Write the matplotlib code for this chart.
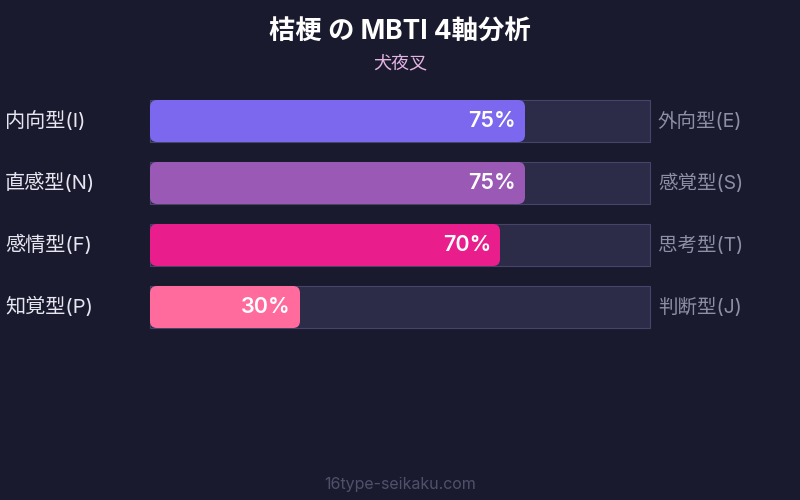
import matplotlib
matplotlib.use("Agg")
import matplotlib.pyplot as plt
import matplotlib.patches as mpatches

plt.rcParams['font.family'] = ['Inter', 'Noto Sans CJK JP', 'DejaVu Sans']

# data
title = "桔梗 の MBTI 4軸分析"
subtitle = "犬夜叉"
left_labels = ["内向型(I)", "直感型(N)", "感情型(F)", "知覚型(P)"]
right_labels = ["外向型(E)", "感覚型(S)", "思考型(T)", "判断型(J)"]
values = [75, 75, 70, 30]
bar_colors = ["#7b68ee", "#9b59b6", "#e91e8c", "#ff6b9d"]
footer = "16type-seikaku.com"

bg = "#1a1a2e"
fig = plt.figure(figsize=(8, 5), dpi=100, facecolor=bg)
ax = fig.add_axes([0, 0, 1, 1])
ax.set_facecolor(bg)
ax.set_xlim(0, 800)
ax.set_ylim(500, 0)
ax.axis('off')

x0, track_w = 150, 500
y_first, step, bar_h = 100, 62, 42

for i, (v, lab_l, lab_r, c) in enumerate(zip(values, left_labels, right_labels, bar_colors)):
    y = y_first + i * step
    # background track
    ax.add_patch(mpatches.Rectangle((x0, y), track_w, bar_h, facecolor="#2c2b48",
                                    edgecolor="#45446a", linewidth=0.8))
    # filled part
    w = track_w * v / 100
    ax.add_patch(mpatches.FancyBboxPatch((x0, y), w, bar_h,
                                         boxstyle="round,pad=0,rounding_size=7",
                                         facecolor=c, edgecolor="none"))
    ax.text(x0 + w - 9, y + bar_h / 2, f"{v}%", ha="right", va="center",
            fontsize=15.5, fontweight="semibold", color="white")
    ax.text(5, y + bar_h / 2, lab_l, ha="left", va="center", fontsize=14.5, color="#e6e6f0")
    ax.text(658, y + bar_h / 2, lab_r, ha="left", va="center", fontsize=14, color="#8e8ea6")

ax.text(400, 33, title, ha="center", va="center", fontsize=19, fontweight="bold", color="white")
ax.text(400, 64, subtitle, ha="center", va="center", fontsize=13, color="#e3b3e3")
ax.text(400, 484, footer, ha="center", va="center", fontsize=11.5, color="#50506c")

fig.savefig("out.png", dpi=100, facecolor=bg)
